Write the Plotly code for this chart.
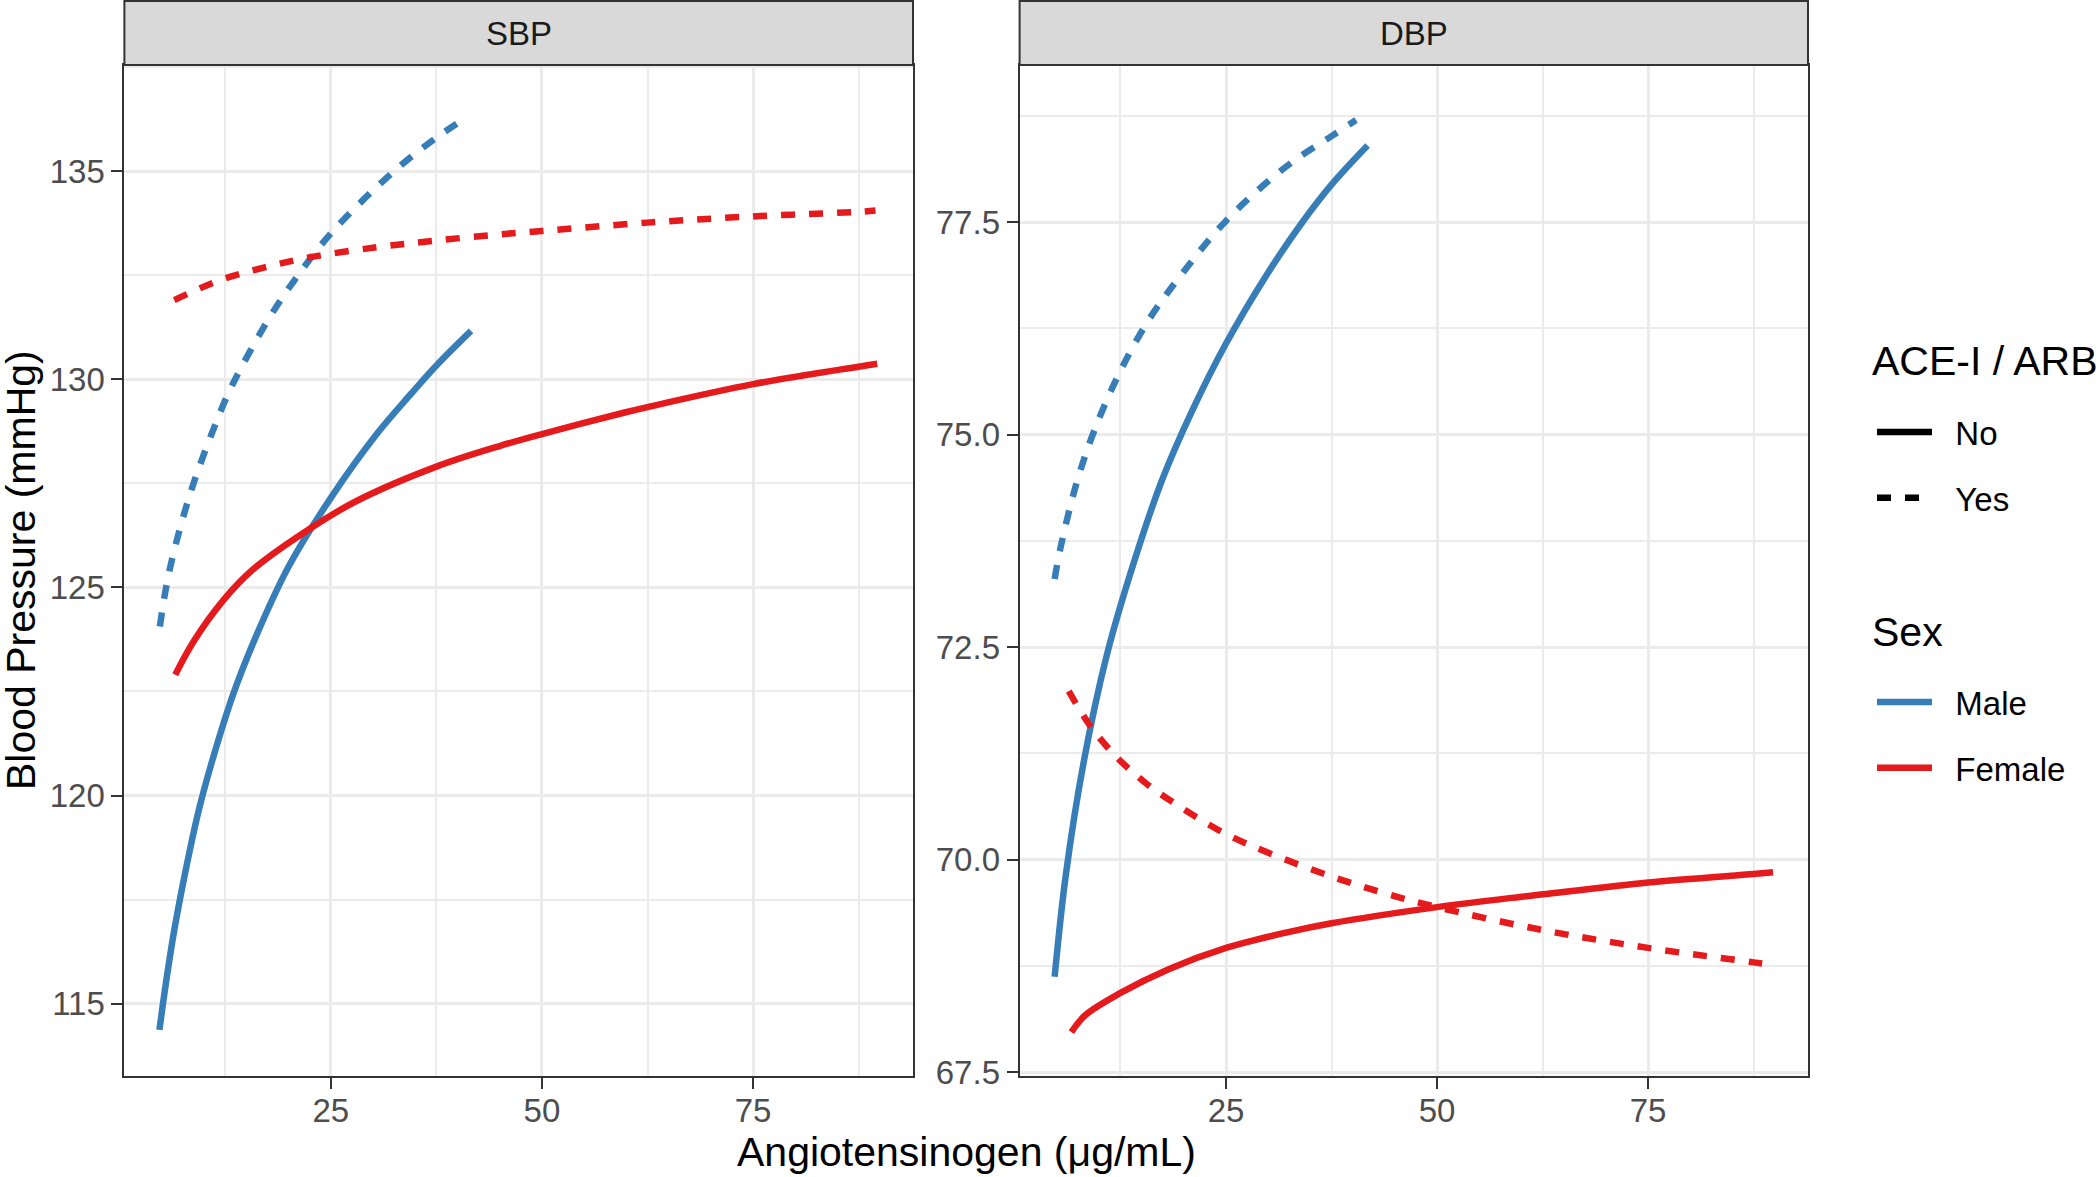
import plotly.graph_objects as go

# ---------------- data ----------------
# SBP panel
sbp_male_no_x = [4.7, 5.4, 6.4, 7.75, 9.3, 10.9, 13.5, 16.3, 20.0, 25.0, 30.5, 34.5, 37.5, 41.6]
sbp_male_no_y = [114.37, 115.4, 116.7, 118.15, 119.6, 120.8, 122.47, 123.9, 125.5, 127.15, 128.7, 129.65, 130.33, 131.16]

sbp_male_yes_x = [4.75, 5.4, 6.4, 8.5, 11.1, 13.3, 17.8, 20.6, 25.0, 32.5, 37.5, 40.4]
sbp_male_yes_y = [124.06, 124.9, 125.85, 127.35, 128.8, 129.85, 131.5, 132.35, 133.5, 135.0, 135.8, 136.2]

sbp_female_no_x = [6.57, 8.74, 12.3, 15.6, 22.6, 28.1, 37.5, 45.07, 50.0, 59.8, 62.5, 75.0, 87.5, 89.7]
sbp_female_no_y = [122.9, 123.7, 124.7, 125.4, 126.42, 127.08, 127.9, 128.4, 128.68, 129.2, 129.33, 129.88, 130.3, 130.37]

sbp_female_yes_x = [6.45, 11.9, 17.05, 22.6, 30.5, 37.5, 45.07, 50.0, 62.5, 75.0, 87.5, 89.5]
sbp_female_yes_y = [131.9, 132.38, 132.68, 132.93, 133.17, 133.33, 133.48, 133.56, 133.76, 133.91, 134.02, 134.05]

# DBP panel
dbp_male_no_x = [4.7, 6.0, 8.15, 10.92, 14.1, 17.45, 21.0, 25.0, 29.7, 34.06, 37.5, 41.77]
dbp_male_no_y = [68.62, 69.8, 71.15, 72.42, 73.5, 74.47, 75.28, 76.07, 76.86, 77.5, 77.94, 78.4]

dbp_male_yes_x = [4.7, 5.38, 7.36, 9.53, 12.5, 15.86, 19.4, 24.96, 32.1, 37.5, 40.4]
dbp_male_yes_y = [73.3, 73.66, 74.45, 75.08, 75.75, 76.35, 76.84, 77.51, 78.15, 78.51, 78.7]

dbp_female_no_x = [6.68, 8.35, 12.5, 18.2, 25.0, 32.1, 37.5, 50.0, 59.8, 62.5, 75.0, 87.5, 89.8]
dbp_female_no_y = [67.97, 68.17, 68.43, 68.71, 68.96, 69.14, 69.25, 69.44, 69.56, 69.59, 69.73, 69.83, 69.85]

dbp_female_yes_x = [6.37, 8.94, 11.9, 15.47, 19.4, 25.0, 30.5, 37.5, 43.9, 50.0, 62.5, 75.0, 87.5, 89.6]
dbp_female_yes_y = [71.98, 71.57, 71.22, 70.9, 70.63, 70.3, 70.06, 69.8, 69.6, 69.44, 69.17, 68.96, 68.79, 68.76]

panels = ["SBP", "DBP"]
x_ticks = [25, 50, 75]
sbp_ticks = [115, 120, 125, 130, 135]
dbp_ticks = [67.5, 70.0, 72.5, 75.0, 77.5]

# ---------------- style ----------------
BLUE = "#377EB8"
RED = "#E41A1C"
FONT = "Liberation Sans, Arial, sans-serif"
LW = 6.5
DASH = "14px,14px"
W, H = 2100, 1177
NB = "\u00a0\u00a0"

fig = go.Figure()

def add(x, y, color, dashed, xa, ya):
    fig.add_trace(go.Scatter(
        x=x, y=y, mode="lines", xaxis=xa, yaxis=ya, showlegend=False,
        line=dict(color=color, width=LW, dash=DASH if dashed else "solid",
                  shape="spline", smoothing=1.0),
        hoverinfo="skip"))

add(sbp_male_no_x, sbp_male_no_y, BLUE, False, "x", "y")
add(sbp_male_yes_x, sbp_male_yes_y, BLUE, True, "x", "y")
add(sbp_female_no_x, sbp_female_no_y, RED, False, "x", "y")
add(sbp_female_yes_x, sbp_female_yes_y, RED, True, "x", "y")
add(dbp_male_no_x, dbp_male_no_y, BLUE, False, "x2", "y2")
add(dbp_male_yes_x, dbp_male_yes_y, BLUE, True, "x2", "y2")
add(dbp_female_no_x, dbp_female_no_y, RED, False, "x2", "y2")
add(dbp_female_yes_x, dbp_female_yes_y, RED, True, "x2", "y2")

# legend entries
leg_items = [("No", "black", "solid", "legend", "a1"),
             ("Yes", "black", DASH, "legend", "a2"),
             ("Male", BLUE, "solid", "legend2", "s1"),
             ("Female", RED, "solid", "legend2", "s2")]
for name, col, dash, leg, grp in leg_items:
    fig.add_trace(go.Scatter(x=[None], y=[None], mode="lines", name=NB + name,
                             legend=leg, legendgroup=grp,
                             line=dict(color=col, width=LW, dash=dash)))

# geometry (paper fractions)
px_x = lambda p: p / W
px_y = lambda p: 1 - p / H
dom1 = [px_x(124.4), px_x(913)]
dom2 = [px_x(1019.6), px_x(1808)]
ydom = [px_y(1076), px_y(65)]

axis_common = dict(
    showline=True, mirror=True, linecolor="#333333", linewidth=2,
    ticks="outside", ticklen=11, tickwidth=2, tickcolor="#333333",
    showgrid=True, gridcolor="#EBEBEB", gridwidth=3,
    zeroline=False, automargin=False,
    tickfont=dict(family=FONT, size=33, color="#4D4D4D"),
)
minor_x = dict(dtick=12.5, tick0=0, showgrid=True, gridcolor="#EBEBEB", gridwidth=1.5, ticks="")

fig.update_layout(
    template="none",
    width=W, height=H, autosize=False,
    margin=dict(l=0, r=0, t=0, b=0),
    paper_bgcolor="white", plot_bgcolor="white",
    font=dict(family=FONT, color="black"),
    xaxis=dict(domain=dom1, range=[0.55, 93.94], anchor="y", tickvals=x_ticks,
               ticklabelstandoff=-7, minor=minor_x, **axis_common),
    yaxis=dict(domain=ydom, range=[113.263, 137.546], anchor="x", tickvals=sbp_ticks,
               minor=dict(dtick=2.5, tick0=0, showgrid=True, gridcolor="#EBEBEB", gridwidth=1.5, ticks=""),
               **axis_common),
    xaxis2=dict(domain=dom2, range=[0.55, 93.94], anchor="y2", tickvals=x_ticks,
                ticklabelstandoff=-7, minor=minor_x, **axis_common),
    yaxis2=dict(domain=ydom, range=[67.453, 79.347], anchor="x2",
                tickvals=dbp_ticks, tickformat=".1f",
                minor=dict(dtick=1.25, tick0=0, showgrid=True, gridcolor="#EBEBEB", gridwidth=1.5, ticks=""),
                **axis_common),
    legend=dict(x=px_x(1872), y=px_y(404), xanchor="left", yanchor="top",
                bgcolor="rgba(0,0,0,0)", borderwidth=0,
                font=dict(family=FONT, size=33, color="black"),
                itemwidth=55, tracegroupgap=20, traceorder="grouped"),
    legend2=dict(x=px_x(1872), y=px_y(674), xanchor="left", yanchor="top",
                 bgcolor="rgba(0,0,0,0)", borderwidth=0,
                 font=dict(family=FONT, size=33, color="black"),
                 itemwidth=55, tracegroupgap=20, traceorder="grouped"),
)

# legend titles
for txt, yc in [("ACE-I / ARB", 361), ("Sex", 632)]:
    fig.add_annotation(x=px_x(1870), y=px_y(yc), xref="paper", yref="paper",
                       text=txt, showarrow=False, xanchor="left", yanchor="middle",
                       font=dict(family=FONT, size=41, color="black"))

# strips
for dom, label in zip([dom1, dom2], panels):
    fig.add_shape(type="rect", xref="paper", yref="paper",
                  x0=dom[0], x1=dom[1], y0=px_y(65), y1=px_y(1),
                  fillcolor="#D9D9D9", line=dict(color="#333333", width=2), layer="above")
    fig.add_annotation(x=(dom[0] + dom[1]) / 2, y=px_y(33), xref="paper", yref="paper",
                       text=label, showarrow=False, xanchor="center", yanchor="middle",
                       font=dict(family=FONT, size=33, color="#1A1A1A"))

# axis titles
fig.add_annotation(x=px_x(966), y=px_y(1152), xref="paper", yref="paper",
                   text="Angiotensinogen (μg/mL)", showarrow=False,
                   xanchor="center", yanchor="middle",
                   font=dict(family=FONT, size=41, color="black"))
fig.add_annotation(x=px_x(21), y=px_y(570), xref="paper", yref="paper",
                   text="Blood Pressure (mmHg)", showarrow=False, textangle=-90,
                   xanchor="center", yanchor="middle",
                   font=dict(family=FONT, size=41, color="black"))

fig.write_html("out.html", config={"displayModeBar": False},
               post_script="document.body.style.margin='0';document.body.style.overflow='hidden';")
